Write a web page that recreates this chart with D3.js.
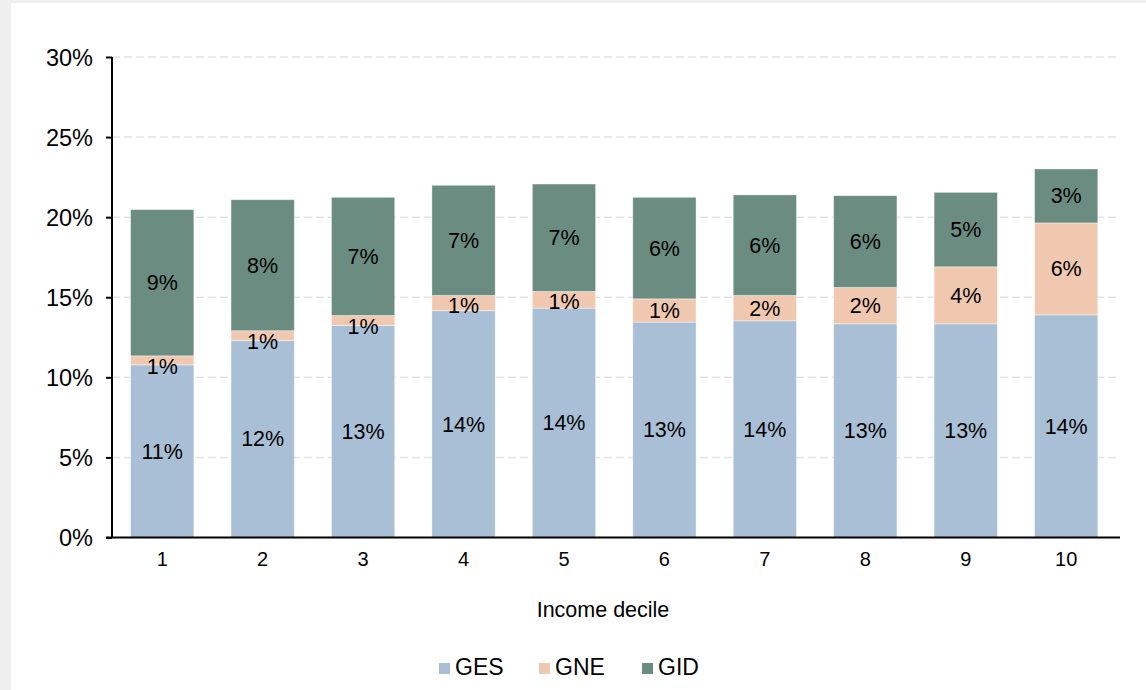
<!DOCTYPE html>
<html>
<head>
<meta charset="utf-8">
<script src="https://cdn.jsdelivr.net/npm/d3@7"></script>
<style>
  html, body { margin: 0; padding: 0; background: #efefef; }
  svg { display: block; }
  text { font-family: "Liberation Sans", Arial, Helvetica, sans-serif; fill: #000; }
</style>
</head>
<body>
<svg id="chart" width="1146" height="690"></svg>
<script>
// ---- data ----
const deciles = ["1", "2", "3", "4", "5", "6", "7", "8", "9", "10"];
const GES = [10.78, 12.30, 13.24, 14.16, 14.32, 13.45, 13.53, 13.34, 13.34, 13.90];
const GNE = [0.56, 0.61, 0.62, 0.95, 1.04, 1.45, 1.58, 2.27, 3.56, 5.74];
const GID = [9.13, 8.18, 7.38, 6.88, 6.71, 6.34, 6.28, 5.73, 4.65, 3.37];
const seriesNames = ["GES", "GNE", "GID"];
const seriesColors = ["#a9bfd6", "#f0c8b0", "#6b8c80"];
const yTicks = [0, 5, 10, 15, 20, 25, 30];
const xTitle = "Income decile";

// ---- layout ----
const svg = d3.select("#chart");
svg.append("rect").attr("x", 11).attr("y", 3).attr("width", 1135).attr("height", 687).attr("fill", "#fff");

const x = d3.scaleBand().domain(deciles).range([112, 1116.4]).paddingInner(0.37).paddingOuter(0.185);
const y = d3.scaleLinear().domain([0, 30]).range([537.5, 57]);

// gridlines
svg.append("g").selectAll("line").data(yTicks.filter(t => t > 0)).join("line")
  .attr("x1", 112).attr("x2", 1116)
  .attr("y1", d => y(d)).attr("y2", d => y(d))
  .attr("stroke", "#e4e4e4").attr("stroke-width", 1.5).attr("stroke-dasharray", "8,4");

// stacked data
const rows = deciles.map((d, i) => ({ decile: d, GES: GES[i], GNE: GNE[i], GID: GID[i] }));
const stack = d3.stack().keys(seriesNames)(rows);

const gBars = svg.append("g");
stack.forEach((layer, si) => {
  const g = gBars.append("g");
  g.selectAll("rect").data(layer).join("rect")
    .attr("x", d => x(d.data.decile))
    .attr("width", x.bandwidth())
    .attr("y", d => y(d[1]))
    .attr("height", d => y(d[0]) - y(d[1]))
    .attr("fill", seriesColors[si])
    .attr("stroke", "#ffffff").attr("stroke-opacity", 0.5).attr("stroke-width", 0.8);
});

// labels
stack.forEach((layer, si) => {
  svg.append("g").selectAll("text").data(layer).join("text")
    .attr("x", d => x(d.data.decile) + x.bandwidth() / 2)
    .attr("y", d => {
      const top = y(d[1]), bot = y(d[0]);
      const h = bot - top;
      const shift = h < 20 ? (20 - h) * 0.6 : 0;
      return (top + bot) / 2 + shift + 7.5;
    })
    .attr("text-anchor", "middle")
    .attr("font-size", 21.5)
    .text(d => Math.round(d[1] - d[0]) + "%");
});

// y axis
const yAxis = d3.axisLeft(y).tickValues(yTicks).tickFormat(d => d + "%").tickSize(6).tickPadding(13);
const gy = svg.append("g").attr("transform", "translate(112,0)").call(yAxis);
gy.select(".domain").attr("stroke", "#000").attr("stroke-width", 2).attr("d", `M0,${y(30)}V${y(0)}`);
gy.selectAll(".tick line").attr("stroke", "#000").attr("stroke-width", 2);
gy.selectAll(".tick text").attr("font-size", 23.5).attr("font-family", "Liberation Sans, Arial, sans-serif").attr("fill", "#000").attr("dy", "0.34em");

// x axis
const xAxis = d3.axisBottom(x).tickSize(0).tickPadding(14);
const gx = svg.append("g").attr("transform", `translate(0,${y(0)})`).call(xAxis);
gx.select(".domain").attr("stroke", "#000").attr("stroke-width", 2).attr("d", "M106,0H1120");
gx.selectAll(".tick text").attr("font-size", 20).attr("font-family", "Liberation Sans, Arial, sans-serif").attr("fill", "#000").attr("dy", "0.71em");

// x title
svg.append("text").attr("x", 603).attr("y", 617).attr("text-anchor", "middle").attr("font-size", 21.5).text(xTitle);

// legend
const legendX = [439, 539, 642];
const lg = svg.append("g");
seriesNames.forEach((name, i) => {
  lg.append("rect").attr("x", legendX[i]).attr("y", 663).attr("width", 11).attr("height", 11).attr("fill", seriesColors[i]);
  lg.append("text").attr("x", legendX[i] + 16).attr("y", 675).attr("font-size", 23).text(name);
});
</script>
</body>
</html>
